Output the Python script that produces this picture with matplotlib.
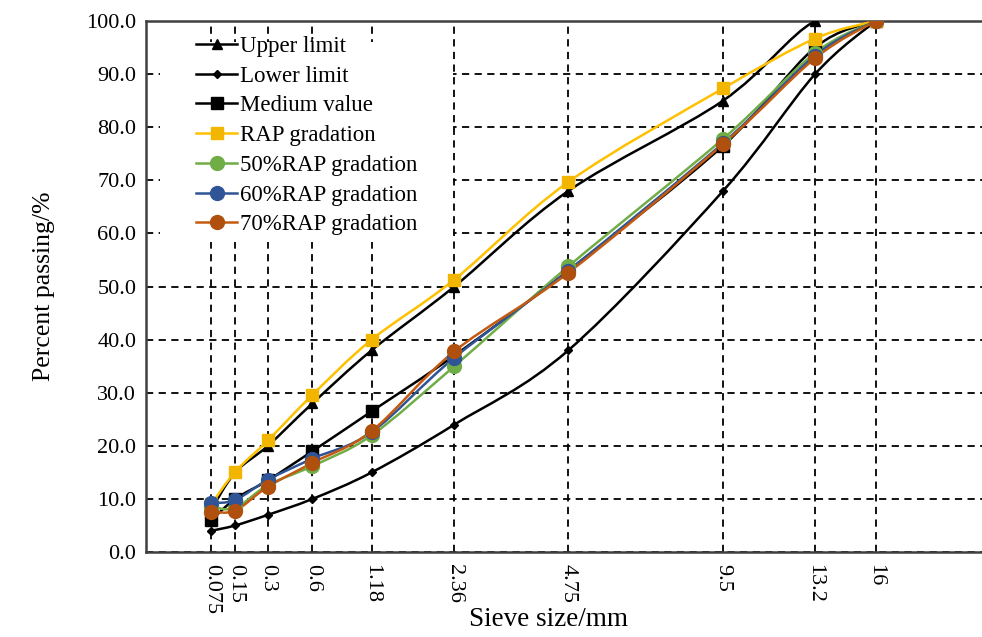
import numpy as np
import matplotlib
matplotlib.use('Agg')
import matplotlib.pyplot as plt
from matplotlib.path import Path
from matplotlib.patches import PathPatch, Rectangle
from matplotlib.lines import Line2D

plt.rcParams['font.family'] = ['Liberation Serif', 'DejaVu Serif']

# sieve sizes (mm) and percent passing
sieve = [0.075, 0.15, 0.3, 0.6, 1.18, 2.36, 4.75, 9.5, 13.2, 16]
sieve_labels = ['0.075', '0.15', '0.3', '0.6', '1.18', '2.36', '4.75', '9.5', '13.2', '16']

upper = [8, 15, 20, 28, 38, 50, 68, 85, 100, 100]
lower = [4, 5, 7, 10, 15, 24, 38, 68, 90, 100]
medium = [6, 10, 13.5, 19, 26.5, 37, 53, 76.5, 95, 100]
rap = [9, 15.1, 21, 29.6, 40, 51.3, 69.7, 87.3, 96.7, 100]
rap50 = [8.5, 8.3, 12.6, 16.2, 22, 35, 53.8, 77.8, 94, 100]
rap60 = [9.2, 9.8, 13.6, 17.6, 22.6, 36.6, 53, 77, 93.5, 100]
rap70 = [7.6, 7.8, 12.3, 16.8, 22.8, 37.8, 52.6, 76.8, 93, 100]

series = [
    ('Upper limit', upper, 'black', '^', 6.5, 'black'),
    ('Lower limit', lower, 'black', 'D', 4.5, 'black'),
    ('Medium value', medium, 'black', 's', 8, 'black'),
    ('RAP gradation', rap, '#FFC000', 's', 8.5, '#F2B600'),
    ('50%RAP gradation', rap50, '#70AD47', 'o', 10, '#70AD47'),
    ('60%RAP gradation', rap60, '#2F5597', 'o', 10, '#2F5597'),
    ('70%RAP gradation', rap70, '#C55A11', 'o', 10, '#B0500F'),
]

PW = 0.45


def fwd(x):
    x = np.asarray(x, float)
    return np.sign(x) * np.abs(x) ** PW


def inv(u):
    u = np.asarray(u, float)
    return np.sign(u) * np.abs(u) ** (1 / PW)


def smooth_path(xs, ys):
    # excel-like smoothed line (bezier through the data points, in scaled space)
    u = fwd(xs)
    y = np.asarray(ys, float)
    n = len(u)
    verts = [(u[0], y[0])]
    codes = [Path.MOVETO]
    for i in range(n - 1):
        i0 = max(i - 1, 0)
        i3 = min(i + 2, n - 1)
        c1 = (u[i] + (u[i + 1] - u[i0]) / 6, y[i] + (y[i + 1] - y[i0]) / 6)
        c2 = (u[i + 1] - (u[i3] - u[i]) / 6, y[i + 1] - (y[i3] - y[i]) / 6)
        verts += [c1, c2, (u[i + 1], y[i + 1])]
        codes += [Path.CURVE4] * 3
    verts = np.array(verts)
    verts[:, 0] = inv(verts[:, 0])
    return Path(verts, codes)


fig = plt.figure(figsize=(9.82, 6.37), dpi=100)
ax = fig.add_axes([146 / 982, 1 - 552 / 637, 836 / 982, 531 / 637])
ax.set_xscale('function', functions=(fwd, inv))
ax.set_xlim(0, inv(3.99))
ax.set_ylim(0, 100)

handles = []
for label, vals, col, mk, ms, mcol in series:
    ax.add_patch(PathPatch(smooth_path(sieve, vals), fill=False,
                           edgecolor=col, lw=1.8, zorder=3))
    ax.plot(sieve, vals, linestyle='none', marker=mk, markersize=ms,
            color=mcol, markeredgecolor=mcol, zorder=4)
    handles.append(Line2D([], [], color=col, lw=1.8, marker=mk,
                          markersize=ms, markerfacecolor=mcol,
                          markeredgecolor=mcol))

ax.set_xticks(sieve)
ax.set_xticklabels(sieve_labels, rotation=270, ha='center', va='top')
ax.set_yticks(np.arange(0, 101, 10))
ax.set_yticklabels(['%.1f' % v for v in np.arange(0, 101, 10)])
ax.tick_params(axis='both', length=0, labelsize=16)
ax.tick_params(axis='x', pad=9)
ax.tick_params(axis='y', pad=7)
ax.minorticks_off()

ax.grid(True, color='black', linestyle=(0, (4, 3)), lw=1.3, zorder=1)

for side in ['top', 'bottom', 'left']:
    ax.spines[side].set_color('#404040')
    ax.spines[side].set_linewidth(1.8)
ax.spines['right'].set_visible(False)

ax.set_xlabel('Sieve size/mm', fontsize=19.5, va='center')
ax.xaxis.set_label_coords(0.482, -0.127)
ax.set_ylabel('Percent passing/%', fontsize=18.5, va='center')
ax.yaxis.set_label_coords(-0.122, 0.5)

# white box behind the legend hides the grid there
ax.add_patch(Rectangle((0.017, 0.584), 0.35, 0.376, transform=ax.transAxes,
                       facecolor='white', edgecolor='none', zorder=2))

leg = ax.legend(handles, [s[0] for s in series], loc='upper left',
                bbox_to_anchor=(0.06, 0.972), frameon=False, fontsize=16.5,
                handlelength=1.8, handletextpad=0.1, labelspacing=0.38,
                borderpad=0, borderaxespad=0)

fig.savefig('out.png', dpi=100)
